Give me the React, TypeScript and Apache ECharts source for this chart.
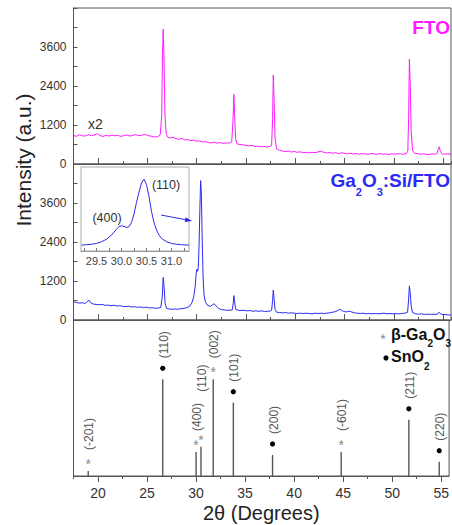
import React, { useEffect, useRef } from "react";
import * as echarts from "echarts";

// ---- Data ----
// FTO pattern (displayed x2), [2θ, intensity]
const ftoPattern: [number, number][] = [
  [17.5, 880], [17.8, 850], [18.1, 900], [18.4, 870], [18.7, 860], [19.0, 905], [19.3, 870],
  [19.6, 890], [19.9, 935], [20.2, 870], [20.5, 850], [20.8, 880], [21.1, 860], [21.4, 890],
  [21.7, 870], [22.0, 880], [22.3, 850], [22.6, 870], [22.9, 895], [23.2, 860], [23.5, 880],
  [23.8, 905], [24.1, 870], [24.4, 880], [24.7, 915], [25.0, 880], [25.3, 860], [25.6, 840],
  [25.9, 830], [26.1, 850], [26.3, 900], [26.45, 1500], [26.53, 3400], [26.6, 4150],
  [26.68, 3300], [26.78, 1500], [26.9, 950], [27.0, 840], [27.3, 800], [27.6, 820], [27.9, 780],
  [28.2, 760], [28.5, 790], [28.8, 740], [29.1, 750], [29.4, 720], [29.7, 735], [30.0, 700],
  [30.3, 710], [30.6, 680], [30.9, 690], [31.2, 660], [31.5, 650], [31.8, 670], [32.1, 640],
  [32.4, 660], [32.7, 630], [33.0, 650], [33.3, 640], [33.55, 680], [33.68, 1300],
  [33.77, 2140], [33.85, 1500], [33.95, 760], [34.1, 620], [34.4, 600], [34.7, 590],
  [35.0, 570], [35.3, 560], [35.6, 575], [35.9, 540], [36.2, 550], [36.5, 530], [36.8, 545],
  [37.1, 520], [37.4, 540], [37.6, 580], [37.7, 1400], [37.77, 2740], [37.85, 2000],
  [37.95, 800], [38.1, 470], [38.4, 420], [38.7, 400], [39.0, 380], [39.3, 400], [39.6, 370],
  [39.9, 385], [40.2, 360], [40.5, 375], [40.8, 350], [41.1, 360], [41.4, 340], [41.7, 360],
  [42.0, 350], [42.3, 370], [42.6, 395], [42.9, 360], [43.2, 340], [43.5, 355], [43.8, 330],
  [44.1, 350], [44.4, 320], [44.7, 345], [45.0, 330], [45.3, 310], [45.6, 330], [45.9, 310],
  [46.2, 325], [46.5, 300], [46.8, 320], [47.1, 310], [47.4, 300], [47.7, 325], [48.0, 310],
  [48.3, 300], [48.6, 320], [48.9, 300], [49.2, 310], [49.5, 290], [49.8, 315], [50.1, 300],
  [50.4, 320], [50.7, 310], [51.0, 300], [51.3, 330], [51.42, 420], [51.5, 1400],
  [51.58, 3230], [51.66, 2500], [51.76, 1000], [51.9, 420], [52.1, 330], [52.4, 320],
  [52.7, 300], [53.0, 310], [53.3, 300], [53.6, 290], [53.9, 310], [54.2, 300], [54.4, 330],
  [54.52, 480], [54.6, 530], [54.7, 420], [54.85, 320], [55.1, 300], [55.4, 310], [55.8, 300],
];

// Ga2O3:Si/FTO pattern, [2θ, intensity]
const gaPattern: [number, number][] = [
  [17.5, 560], [17.8, 540], [18.1, 520], [18.4, 530], [18.7, 510], [18.9, 560], [19.05, 615],
  [19.2, 540], [19.5, 490], [19.8, 480], [20.1, 470], [20.4, 480], [20.7, 450], [21.0, 460],
  [21.3, 440], [21.6, 455], [21.9, 430], [22.2, 440], [22.5, 420], [22.8, 410], [23.1, 425],
  [23.4, 400], [23.7, 410], [24.0, 390], [24.3, 400], [24.6, 380], [24.9, 395], [25.2, 370],
  [25.5, 380], [25.8, 360], [26.1, 370], [26.35, 380], [26.5, 700], [26.6, 1310], [26.7, 980],
  [26.8, 500], [26.95, 360], [27.2, 340], [27.5, 330], [27.8, 340], [28.1, 330], [28.4, 350],
  [28.7, 360], [29.0, 380], [29.3, 430], [29.5, 520], [29.7, 720], [29.85, 1050],
  [29.95, 1450], [30.02, 1560], [30.1, 1500], [30.17, 1650], [30.25, 2400], [30.32, 3400],
  [30.4, 4290], [30.47, 3900], [30.55, 2600], [30.65, 1300], [30.75, 750], [30.9, 540],
  [31.1, 450], [31.4, 420], [31.6, 470], [31.77, 500], [31.95, 440], [32.2, 360], [32.5, 320],
  [32.8, 310], [33.1, 300], [33.4, 300], [33.6, 310], [33.7, 500], [33.77, 750], [33.85, 560],
  [33.95, 330], [34.2, 300], [34.5, 290], [34.8, 300], [35.1, 280], [35.4, 290], [35.7, 270],
  [36.0, 280], [36.3, 270], [36.6, 280], [36.9, 260], [37.2, 270], [37.5, 275], [37.6, 300],
  [37.7, 600], [37.77, 920], [37.85, 650], [37.95, 320], [38.1, 240], [38.4, 230], [38.7, 220],
  [39.0, 230], [39.3, 210], [39.6, 220], [39.9, 210], [40.2, 200], [40.5, 210], [40.8, 200],
  [41.1, 210], [41.4, 200], [41.7, 190], [42.0, 210], [42.3, 200], [42.6, 210], [42.9, 200],
  [43.2, 210], [43.5, 220], [43.8, 240], [44.1, 260], [44.35, 300], [44.5, 330], [44.7, 300],
  [44.9, 260], [45.2, 250], [45.5, 270], [45.7, 250], [46.0, 220], [46.3, 210], [46.6, 200],
  [46.9, 210], [47.2, 190], [47.5, 200], [47.8, 190], [48.1, 200], [48.4, 190], [48.7, 200],
  [49.0, 210], [49.3, 190], [49.6, 200], [49.9, 190], [50.2, 200], [50.5, 190], [50.8, 200],
  [51.1, 210], [51.4, 240], [51.5, 650], [51.58, 1050], [51.66, 850], [51.76, 420], [51.9, 230],
  [52.2, 190], [52.5, 180], [52.8, 190], [53.1, 170], [53.4, 180], [53.7, 170], [54.0, 180],
  [54.3, 170], [54.45, 185], [54.58, 240], [54.7, 200], [54.9, 170], [55.2, 165], [55.5, 160],
  [55.8, 150],
];

// Inset: zoom of the 29.2–31.35° region (relative units)
const insetPattern: [number, number][] = [
  [29.2, 7], [29.3, 7.5], [29.4, 8], [29.5, 9], [29.6, 11], [29.7, 14], [29.8, 19], [29.9, 26],
  [29.95, 29], [30.0, 30], [30.05, 29.5], [30.1, 28], [30.15, 29], [30.2, 34], [30.25, 44],
  [30.3, 58], [30.35, 70], [30.4, 81], [30.45, 85.5], [30.5, 79], [30.55, 65], [30.6, 47],
  [30.65, 34], [30.7, 25], [30.75, 19], [30.8, 15], [30.9, 11], [31.0, 9], [31.1, 8],
  [31.2, 7.5], [31.35, 7],
];

// Reference stick patterns (relative intensity)
const ga2o3Angles = [19.0, 30.0, 30.5, 31.75, 44.8];
const ga2o3Heights = [3.2, 15.4, 18.8, 62, 15.4];
const ga2o3Hkl = ["(-201)", "(400)", "(110)", "(002)", "(-601)"];

const sno2Angles = [26.6, 33.8, 37.8, 51.7, 54.8];
const sno2Heights = [62, 47, 13.5, 36, 9.2];
const sno2Hkl = ["(110)", "(101)", "(200)", "(211)", "(220)"];

const xMajorTicks = [20, 25, 30, 35, 40, 45, 50, 55];
const insetTicks = [29.25, 29.5, 29.75, 30.0, 30.25, 30.5, 30.75, 31.0, 31.25];
const insetLabels = [29.5, 30.0, 30.5, 31.0];

const FONT = "'Liberation Sans', Arial, Helvetica, sans-serif";
const MAGENTA = "#ff1aff";
const BLUE = "#2a2af2";
const FRAME = "#555";

export default function App() {
  const ref = useRef<HTMLDivElement>(null);

  useEffect(() => {
    const el = ref.current;
    if (!el) return;
    const chart = echarts.init(el, null, { renderer: "svg" });

    const X_MIN = 17.5;
    const X_MAX = 55.8;
    const L = 73.5;
    const W = 377.5;
    const panelTops = [8, 164, 320];
    const H = 156;

    const isMajor = (v: number) => Math.abs(v / 5 - Math.round(v / 5)) < 1e-6;

    const minorX = (gridIndex: number, inside: boolean, labels: boolean) => ({
      type: "value",
      gridIndex,
      position: "bottom",
      min: X_MIN,
      max: X_MAX,
      interval: 2.5,
      axisLine: { show: true, lineStyle: { color: FRAME, width: 1 } },
      axisTick: { show: true, inside, length: 3, lineStyle: { color: FRAME } },
      axisLabel: {
        show: labels,
        interval: 0,
        showMinLabel: true,
        showMaxLabel: false,
        hideOverlap: false,
        align: "center",
        fontSize: 14,
        color: "#333",
        fontFamily: FONT,
        margin: 10,
        formatter: (v: number) => (isMajor(v) ? String(Math.round(v)) : ""),
      },
      splitLine: { show: false },
      name: labels ? "2θ (Degrees)" : "",
      nameLocation: "middle",
      nameGap: 27,
      nameTextStyle: { fontSize: 20, color: "#222", fontFamily: FONT },
    });
    const majorX = (gridIndex: number, inside: boolean) => ({
      type: "value",
      gridIndex,
      position: "bottom",
      min: X_MIN,
      max: X_MAX,
      axisLine: { show: false },
      axisTick: { show: true, inside, length: 6, customValues: xMajorTicks, lineStyle: { color: FRAME } },
      axisLabel: { show: false },
      splitLine: { show: false },
    });
    const intensityY = (gridIndex: number) => ({
      type: "value",
      gridIndex,
      min: 0,
      max: 4800,
      interval: 1200,
      axisLine: { show: true, lineStyle: { color: FRAME } },
      axisTick: { show: true, inside: true, length: 4, lineStyle: { color: FRAME } },
      minorTick: { show: true, splitNumber: 2, length: 4, lineStyle: { color: FRAME } },
      axisLabel: {
        fontSize: 12,
        color: "#333",
        fontFamily: FONT,
        margin: 7,
        formatter: (v: number) => (v >= 4800 ? "" : String(v)),
      },
      splitLine: { show: false },
    });

    // extra vertical lift (px) for a label that would collide with its neighbour
    const liftFor = (kind: string, i: number) => (kind === "star" && i === 2 ? 34 : 0);

    const stickRender = (hkl: string[], kind: "star" | "dot") => (params: any, api: any) => {
      const x = api.value(0);
      const h = api.value(1);
      const i = api.value(2);
      const base = api.coord([x, 0]);
      const top = api.coord([x, h]);
      const marker =
        kind === "dot"
          ? { type: "circle", shape: { cx: top[0], cy: top[1] - 11, r: 2.6 }, style: { fill: "#000" } }
          : {
              type: "text",
              x: top[0],
              y: top[1] - 7,
              style: { text: "*", align: "center", verticalAlign: "middle", fontSize: 14, fill: "#8a8a8a", fontFamily: FONT },
            };
      return {
        type: "group",
        children: [
          {
            type: "line",
            shape: { x1: base[0], y1: base[1], x2: top[0], y2: top[1] },
            style: { stroke: "#555", lineWidth: 1.4 },
          },
          marker,
          {
            type: "text",
            x: top[0] + 1,
            y: top[1] - 21 - liftFor(kind, i),
            rotation: Math.PI / 2,
            style: {
              text: hkl[i],
              align: "left",
              verticalAlign: "middle",
              fontSize: 12,
              fill: "#555",
              fontFamily: FONT,
            },
          },
        ],
      };
    };

    const option: any = {
      animation: false,
      backgroundColor: "#fff",
      textStyle: { fontFamily: FONT },
      grid: [
        ...panelTops.map((t) => ({
          left: L,
          top: t,
          width: W,
          height: H,
          show: true,
          borderColor: FRAME,
          borderWidth: 1,
          backgroundColor: "transparent",
        })),
        { left: 81, top: 167, width: 108, height: 84, show: true, borderColor: "#aaa", borderWidth: 1, backgroundColor: "#fff" },
      ],
      xAxis: [
        minorX(0, true, false),
        majorX(0, true),
        minorX(1, true, false),
        majorX(1, true),
        minorX(2, false, true),
        majorX(2, false),
        {
          type: "value",
          gridIndex: 3,
          min: 29.19,
          max: 31.35,
          axisLine: { show: true, lineStyle: { color: "#999" } },
          axisTick: { show: true, inside: true, length: 3, customValues: insetTicks, lineStyle: { color: "#777" } },
          axisLabel: {
            customValues: insetLabels,
            align: "center",
            formatter: (v: number) => v.toFixed(1),
            fontSize: 11,
            color: "#444",
            fontFamily: FONT,
            margin: 4,
          },
          splitLine: { show: false },
        },
      ],
      yAxis: [
        intensityY(0),
        intensityY(1),
        { type: "value", gridIndex: 2, min: 0, max: 100, show: false, splitLine: { show: false } },
        { type: "value", gridIndex: 3, min: 0, max: 100, show: false, splitLine: { show: false } },
      ],
      series: [
        {
          type: "line",
          xAxisIndex: 0,
          yAxisIndex: 0,
          data: ftoPattern,
          showSymbol: false,
          lineStyle: { color: MAGENTA, width: 1 },
          itemStyle: { color: MAGENTA },
        },
        {
          type: "line",
          xAxisIndex: 2,
          yAxisIndex: 1,
          data: gaPattern,
          showSymbol: false,
          lineStyle: { color: BLUE, width: 1 },
          itemStyle: { color: BLUE },
        },
        {
          type: "custom",
          xAxisIndex: 4,
          yAxisIndex: 2,
          data: ga2o3Angles.map((a, i) => [a, ga2o3Heights[i], i]),
          encode: { x: 0, y: 1 },
          renderItem: stickRender(ga2o3Hkl, "star"),
        },
        {
          type: "custom",
          xAxisIndex: 4,
          yAxisIndex: 2,
          data: sno2Angles.map((a, i) => [a, sno2Heights[i], i]),
          encode: { x: 0, y: 1 },
          renderItem: stickRender(sno2Hkl, "dot"),
        },
        {
          type: "line",
          xAxisIndex: 6,
          yAxisIndex: 3,
          data: insetPattern,
          showSymbol: false,
          z: 5,
          lineStyle: { color: BLUE, width: 1 },
          itemStyle: { color: BLUE },
        },
      ],
      graphic: [
        {
          type: "text",
          x: 23,
          y: 160,
          rotation: Math.PI / 2,
          style: { text: "Intensity (a.u.)", fontSize: 21, fill: "#222", align: "center", verticalAlign: "middle", fontFamily: FONT },
        },
        {
          type: "text",
          x: 450,
          y: 27,
          style: { text: "FTO", fontSize: 19, fontWeight: "bold", fill: MAGENTA, align: "right", verticalAlign: "middle", fontFamily: FONT },
        },
        {
          type: "text",
          x: 450,
          y: 171,
          style: {
            text: "{m|Ga}{s|2}{m|O}{s|3}{m|:Si/FTO}",
            align: "right",
            verticalAlign: "top",
            fontFamily: FONT,
            rich: {
              m: { fontSize: 19, fontWeight: "bold", fill: BLUE, lineHeight: 20, verticalAlign: "top", fontFamily: FONT },
              s: { fontSize: 11, fontWeight: "bold", fill: BLUE, lineHeight: 12, padding: [15, 0, 0, 0], verticalAlign: "top", fontFamily: FONT },
            },
          },
        },
        {
          type: "text",
          x: 88,
          y: 124,
          style: { text: "x2", fontSize: 14, fill: "#333", verticalAlign: "middle", fontFamily: FONT },
        },
        {
          type: "text",
          x: 166,
          y: 185,
          z: 10,
          style: { text: "(110)", fontSize: 12.5, fill: "#333", align: "center", verticalAlign: "middle", fontFamily: FONT },
        },
        {
          type: "text",
          x: 107,
          y: 218,
          z: 10,
          style: { text: "(400)", fontSize: 12.5, fill: "#333", align: "center", verticalAlign: "middle", fontFamily: FONT },
        },
        {
          type: "line",
          z: 10,
          shape: { x1: 161, y1: 215, x2: 186, y2: 219.8 },
          style: { stroke: BLUE, lineWidth: 1 },
        },
        {
          type: "polygon",
          z: 10,
          shape: { points: [[192, 221], [185.6, 217.2], [184.7, 222.1]] },
          style: { fill: BLUE },
        },
        {
          type: "text",
          x: 383,
          y: 339,
          style: { text: "*", fontSize: 14, fill: "#8a8a8a", align: "center", verticalAlign: "middle", fontFamily: FONT },
        },
        {
          type: "text",
          x: 391,
          y: 326.5,
          style: {
            text: "{m|β-Ga}{s|2}{m|O}{s|3}",
            align: "left",
            verticalAlign: "top",
            fontFamily: FONT,
            rich: {
              m: { fontSize: 16, fontWeight: "bold", fill: "#111", lineHeight: 16, verticalAlign: "top", fontFamily: FONT },
              s: { fontSize: 10, fontWeight: "bold", fill: "#111", lineHeight: 10, padding: [12, 0, 0, 0], verticalAlign: "top", fontFamily: FONT },
            },
          },
        },
        {
          type: "circle",
          shape: { cx: 386, cy: 358, r: 2.6 },
          style: { fill: "#000" },
        },
        {
          type: "text",
          x: 391,
          y: 348.5,
          style: {
            text: "{m|SnO}{s|2}",
            align: "left",
            verticalAlign: "top",
            fontFamily: FONT,
            rich: {
              m: { fontSize: 16, fontWeight: "bold", fill: "#111", lineHeight: 16, verticalAlign: "top", fontFamily: FONT },
              s: { fontSize: 10, fontWeight: "bold", fill: "#111", lineHeight: 10, padding: [13, 0, 0, 0], verticalAlign: "top", fontFamily: FONT },
            },
          },
        },
      ],
    };

    chart.setOption(option);
    return () => chart.dispose();
  }, []);

  return (
    <div
      ref={ref}
      style={{ position: "fixed", left: 0, top: 0, width: 452, height: 525, background: "#fff" }}
    />
  );
}
